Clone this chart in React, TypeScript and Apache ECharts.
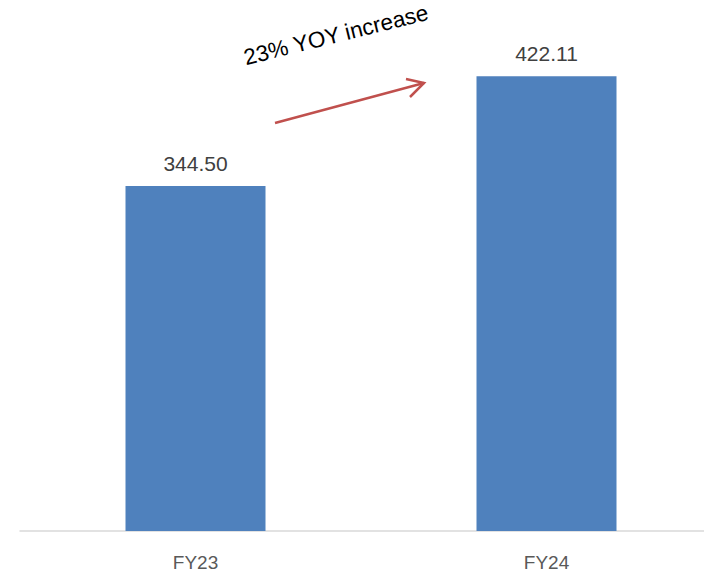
import React, { useEffect, useRef } from "react";
import * as echarts from "echarts";

const categories = ["FY23", "FY24"];
const revenue = [344.5, 422.11];
const annotationText = "23% YOY increase";

export default function App() {
  const ref = useRef<HTMLDivElement>(null);
  useEffect(() => {
    if (!ref.current) return;
    const chart = echarts.init(ref.current, undefined, { renderer: "svg" });
    const font = "'Liberation Sans', Arial, sans-serif";
    chart.setOption({
      animation: false,
      grid: { left: 20, top: 37, width: 702, height: 494, containLabel: false },
      xAxis: {
        type: "category",
        data: categories,
        axisLine: { show: true, lineStyle: { color: "#d9d9d9", width: 1.5 } },
        axisTick: { show: false },
        axisLabel: { color: "#595959", fontSize: 19, fontFamily: font, margin: 22 },
      },
      yAxis: {
        type: "value",
        min: 100,
        max: 450,
        show: false,
        splitLine: { show: false },
      },
      series: [
        {
          type: "bar",
          data: revenue,
          barWidth: 140,
          itemStyle: { color: "#4F81BD" },
          label: {
            show: true,
            position: "top",
            distance: 12,
            formatter: (p: any) => Number(p.value).toFixed(2),
            color: "#404040",
            fontSize: 21,
            fontFamily: font,
          },
        },
      ],
      graphic: [
        {
          type: "text",
          x: 336,
          y: 35,
          rotation: (14 * Math.PI) / 180,
          style: {
            text: annotationText,
            fontSize: 22.5,
            fontFamily: font,
            fill: "#000000",
            textAlign: "center",
            textVerticalAlign: "middle",
          },
        },
        {
          type: "line",
          shape: { x1: 275, y1: 123, x2: 424, y2: 83 },
          style: { stroke: "#C0504D", lineWidth: 2.5 },
        },
        {
          type: "polyline",
          shape: { points: [[406, 79], [424, 83], [410, 97]] },
          style: { stroke: "#C0504D", lineWidth: 2.5, fill: "none" },
        },
      ],
    });
    return () => chart.dispose();
  }, []);
  return (
    <div style={{ width: 704, height: 577, position: "absolute", left: 0, top: 0, overflow: "hidden" }}>
      <div ref={ref} style={{ width: 730, height: 577 }} />
    </div>
  );
}
